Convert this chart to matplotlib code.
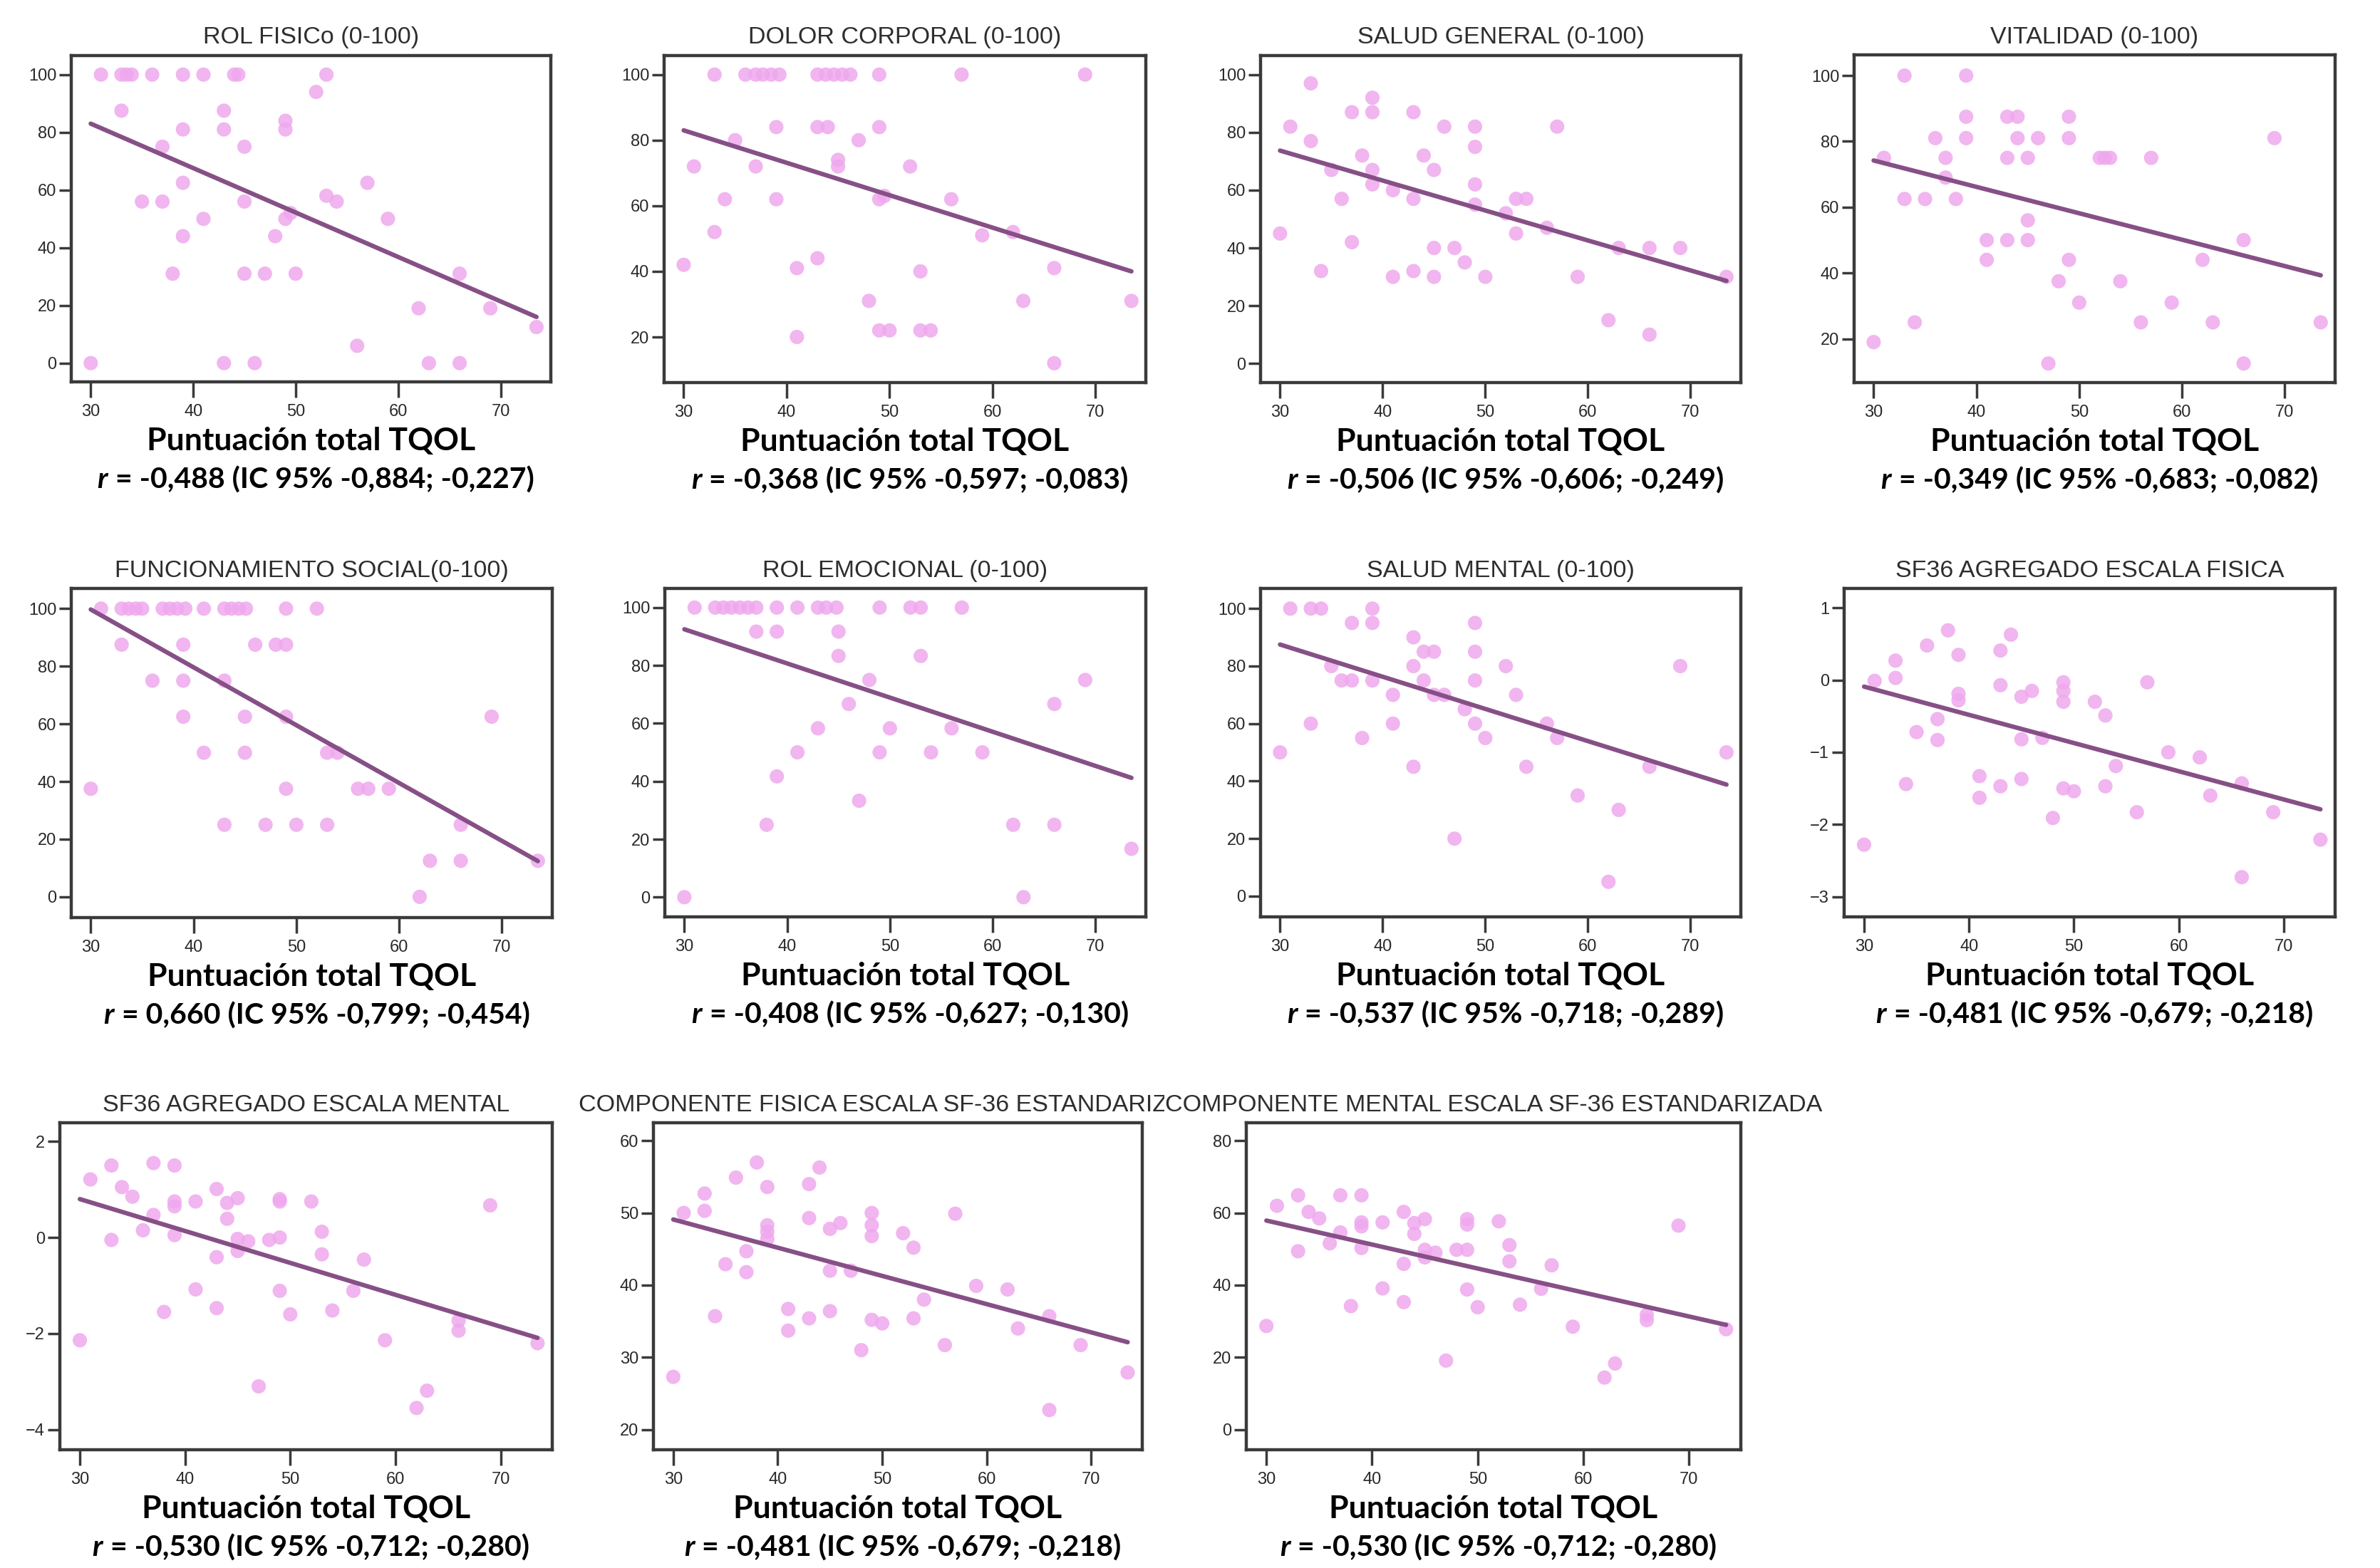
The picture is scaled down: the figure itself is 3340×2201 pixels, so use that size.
import matplotlib
matplotlib.use("Agg")
import matplotlib.pyplot as plt

# Scatter data (x = Puntuación total TQOL)
rol_fisico_x = [30, 31, 33, 33.5, 34, 36, 39, 41, 44, 44.4, 53, 52, 33, 43, 39, 43, 49, 49, 37, 45, 39, 57, 35, 37,
                45, 53, 54, 41, 49, 49.5, 59, 39, 48, 38, 45, 47, 50, 66, 62, 69, 56, 73.5, 43, 46, 63, 66]
rol_fisico_y = [0, 100, 100, 100, 100, 100, 100, 100, 100, 100, 100, 94, 87.5, 87.5, 81, 81, 81, 84, 75, 75, 62.5, 62.5,
                56, 56, 56, 58, 56, 50, 50, 52, 50, 44, 44, 31, 31, 31, 31, 31, 19, 19, 6, 12.5, 0, 0, 0, 0]

dolor_x = [33, 36, 37, 37.7, 38.5, 39.3, 43, 43.8, 44.6, 45.4, 46.2, 49, 57, 69, 39, 43, 44, 49, 35, 47, 31, 37, 45,
           45, 52, 34, 39, 49, 49.5, 56, 33, 59, 62, 30, 41, 43, 53, 66, 48, 63, 73.5, 41, 49, 50, 53, 54, 66]
dolor_y = [100, 100, 100, 100, 100, 100, 100, 100, 100, 100, 100, 100, 100, 100, 84, 84, 84, 84, 80, 80, 72, 72, 72,
           74, 72, 62, 62, 62, 63, 62, 52, 51, 52, 42, 41, 44, 40, 41, 31, 31, 31, 20, 22, 22, 22, 22, 12]

salud_gen_x = [33, 39, 39, 37, 43, 31, 46, 49, 57, 33, 49, 38, 44, 35, 39, 45, 39, 49, 41, 36, 43, 53, 54, 49, 52,
               56, 30, 53, 37, 45, 47, 63, 66, 69, 48, 34, 43, 41, 45, 50, 59, 73.5, 62, 66]
salud_gen_y = [97, 92, 87, 87, 87, 82, 82, 82, 82, 77, 75, 72, 72, 67, 67, 67, 62, 62, 60, 57, 57, 57, 57, 55, 52,
               47, 45, 45, 42, 40, 40, 40, 40, 40, 35, 32, 32, 30, 30, 30, 30, 30, 15, 10]

vitalidad_x = [30, 31, 33, 39, 33, 35, 38, 36, 39, 39, 37, 37, 34, 43, 44, 44, 46, 43, 45, 45, 41, 43, 45, 41, 49,
               49, 49, 48, 50, 52, 52.5, 53, 54, 57, 56, 59, 62, 63, 66, 66, 47, 69, 73.5]
vitalidad_y = [19, 75, 100, 100, 62.5, 62.5, 62.5, 81, 81, 87.5, 75, 69, 25, 87.5, 87.5, 81, 81, 75, 75, 56, 50, 50,
               50, 44, 87.5, 81, 44, 37.5, 31, 75, 75, 75, 37.5, 75, 25, 31, 44, 25, 50, 12.5, 12.5, 81, 25]

social_x = [31, 33, 33.7, 34.4, 35, 37, 37.7, 38.4, 39.2, 41, 43, 43.7, 44.4, 45.1, 49, 52, 33, 39, 46, 48, 49, 36,
            39, 43, 39, 45, 49, 69, 41, 45, 53, 54, 30, 49, 56, 57, 59, 43, 47, 50, 53, 66, 63, 66, 73.5, 62]
social_y = [100, 100, 100, 100, 100, 100, 100, 100, 100, 100, 100, 100, 100, 100, 100, 100, 87.5, 87.5, 87.5, 87.5,
            87.5, 75, 75, 75, 62.5, 62.5, 62.5, 62.5, 50, 50, 50, 50, 37.5, 37.5, 37.5, 37.5, 37.5, 25, 25, 25, 25,
            25, 12.5, 12.5, 12.5, 0]

emocional_x = [31, 33, 33.8, 34.6, 35.4, 36.2, 37, 39, 41, 43, 43.8, 44.8, 49, 52, 53, 57, 37, 39, 45, 45, 53, 48,
               69, 46, 66, 43, 50, 56, 41, 49, 54, 59, 39, 47, 38, 62, 66, 73.5, 30, 63]
emocional_y = [100, 100, 100, 100, 100, 100, 100, 100, 100, 100, 100, 100, 100, 100, 100, 100, 91.7, 91.7, 91.7,
               83.3, 83.3, 75, 75, 66.7, 66.7, 58.3, 58.3, 58.3, 50, 50, 50, 50, 41.7, 33.3, 25, 25, 25, 16.7, 0, 0]

mental_x = [31, 33, 34, 39, 37, 39, 49, 43, 44, 45, 49, 35, 43, 52, 69, 36, 37, 39, 44, 49, 41, 45, 46, 53, 48, 33,
            41, 49, 56, 38, 50, 57, 30, 73.5, 43, 54, 66, 59, 63, 47, 62]
mental_y = [100, 100, 100, 100, 95, 95, 95, 90, 85, 85, 85, 80, 80, 80, 80, 75, 75, 75, 75, 75, 70, 70, 70, 70, 65,
            60, 60, 60, 60, 55, 55, 55, 50, 50, 45, 45, 45, 35, 30, 20, 5]

sf36_fis_x = [30, 31, 33, 33, 34, 35, 36, 37, 37, 38, 39, 39, 39, 41, 41, 43, 43, 43, 44, 45, 45, 45, 46, 47, 48,
              49, 49, 49, 49, 50, 52, 53, 53, 54, 56, 57, 59, 62, 63, 66, 66, 69, 73.5]
sf36_fis_y = [-2.28, -0.01, 0.27, 0.03, -1.44, -0.72, 0.48, -0.54, -0.83, 0.69, 0.35, -0.19, -0.28, -1.33, -1.63,
              0.41, -0.07, -1.47, 0.63, -0.23, -0.82, -1.37, -0.15, -0.8, -1.91, -0.03, -0.15, -0.3, -1.5, -1.54,
              -0.3, -0.49, -1.47, -1.19, -1.83, -0.03, -1.0, -1.07, -1.6, -1.43, -2.73, -1.83, -2.21]

sf36_men_x = [30, 31, 33, 33, 34, 35, 36, 37, 37, 38, 39, 39, 39, 39, 41, 41, 43, 43, 43, 44, 44, 45, 45, 45, 46,
              47, 48, 49, 49, 49, 49, 50, 52, 53, 53, 54, 56, 57, 59, 62, 63, 66, 66, 69, 73.5]
sf36_men_y = [-2.14, 1.21, 1.5, -0.05, 1.05, 0.85, 0.15, 1.55, 0.47, -1.55, 1.5, 0.75, 0.65, 0.05, 0.75, -1.08,
              1.01, -0.41, -1.47, 0.72, 0.39, 0.82, -0.03, -0.28, -0.08, -3.1, -0.05, 0.8, 0.75, 0.0, -1.11, -1.6,
              0.75, 0.12, -0.35, -1.52, -1.11, -0.46, -2.14, -3.55, -3.19, -1.73, -1.94, 0.67, -2.2]

comp_fis_x = [30, 31, 33, 33, 34, 35, 36, 37, 37, 38, 39, 39, 39, 39, 41, 41, 43, 43, 43, 44, 45, 45, 45, 46, 47,
              48, 49, 49, 49, 49, 50, 52, 53, 53, 54, 56, 57, 59, 62, 63, 66, 66, 69, 73.5]
comp_fis_y = [27.3, 50, 52.7, 50.3, 35.7, 42.9, 54.9, 44.7, 41.8, 57.0, 53.6, 48.3, 47.4, 46.4, 36.7, 33.7, 54.0,
              49.3, 35.4, 56.3, 47.8, 42.0, 36.4, 48.6, 42.0, 31.0, 50, 48.3, 46.8, 35.2, 34.7, 47.2, 45.2, 35.4,
              38.0, 31.7, 49.9, 39.9, 39.4, 34.0, 35.7, 22.7, 31.7, 27.9]

comp_men_x = [30, 31, 33, 33, 34, 35, 36, 37, 37, 38, 39, 39, 39, 39, 41, 41, 43, 43, 43, 44, 44, 45, 45, 45, 46,
              47, 48, 49, 49, 49, 49, 50, 52, 53, 53, 54, 56, 57, 59, 62, 63, 66, 66, 69, 73.5]
comp_men_y = [28.7, 62, 64.9, 49.4, 60.3, 58.5, 51.6, 64.9, 54.6, 34.2, 64.9, 57.4, 56.3, 50.3, 57.4, 39.1, 60.3,
              45.9, 35.3, 57.2, 54.2, 58.3, 49.8, 47.7, 49.0, 19.1, 49.8, 58.3, 56.8, 49.8, 38.8, 33.9, 57.7, 51.1,
              46.6, 34.6, 39.0, 45.5, 28.5, 14.4, 18.3, 31.8, 30.3, 56.5, 27.8]

# fitted line: y at smallest and largest x
fit_ends = [(83, 16), (83, 40), (73.7, 28.6), (74.2, 39.3), (99.7, 12.4), (92.5, 41.2),
            (87.5, 38.8), (-0.09, -1.79), (0.8, -2.09), (49.1, 32.1), (57.9, 29.0)]

titles = ["ROL FISICo (0-100)", "DOLOR CORPORAL (0-100)", "SALUD GENERAL (0-100)", "VITALIDAD (0-100)",
          "FUNCIONAMIENTO SOCIAL(0-100)", "ROL EMOCIONAL (0-100)", "SALUD MENTAL (0-100)",
          "SF36 AGREGADO ESCALA FISICA", "SF36 AGREGADO ESCALA MENTAL",
          "COMPONENTE FISICA ESCALA SF-36 ESTANDARIZADA", "COMPONENTE MENTAL ESCALA SF-36 ESTANDARIZADA"]

r_texts = ["= -0,488 (IC 95% -0,884; -0,227)", "= -0,368 (IC 95% -0,597; -0,083)",
           "= -0,506 (IC 95% -0,606; -0,249)", "= -0,349 (IC 95% -0,683; -0,082)",
           "= 0,660 (IC 95% -0,799; -0,454)", "= -0,408 (IC 95% -0,627; -0,130)",
           "= -0,537 (IC 95% -0,718; -0,289)", "= -0,481 (IC 95% -0,679; -0,218)",
           "= -0,530 (IC 95% -0,712; -0,280)", "= -0,481 (IC 95% -0,679; -0,218)",
           "= -0,530 (IC 95% -0,712; -0,280)"]

y_ticks = [[0, 20, 40, 60, 80, 100], [20, 40, 60, 80, 100], [0, 20, 40, 60, 80, 100], [20, 40, 60, 80, 100],
           [0, 20, 40, 60, 80, 100], [0, 20, 40, 60, 80, 100], [0, 20, 40, 60, 80, 100], [-3, -2, -1, 0, 1],
           [-4, -2, 0, 2], [20, 30, 40, 50, 60], [0, 20, 40, 60, 80]]
y_lims = [(-6.5, 106.6), (6.1, 105.8), (-6.6, 106.6), (6.7, 106.3), (-7.2, 107), (-6.8, 106.6), (-7.2, 107),
          (-3.28, 1.27), (-4.42, 2.39), (17.2, 62.5), (-5.6, 85)]
x_ticks = [30, 40, 50, 60, 70]

xs = [rol_fisico_x, dolor_x, salud_gen_x, vitalidad_x, social_x, emocional_x, mental_x,
      sf36_fis_x, sf36_men_x, comp_fis_x, comp_men_x]
ys = [rol_fisico_y, dolor_y, salud_gen_y, vitalidad_y, social_y, emocional_y, mental_y,
      sf36_fis_y, sf36_men_y, comp_fis_y, comp_men_y]

# axes boxes in pixels: left, top, right, bottom
W, H = 3341, 2201
boxes = [(100, 78, 773, 536), (932, 78, 1608, 537), (1769, 78, 2443, 537), (2602, 77, 3277, 537),
         (100, 826, 775, 1288), (933, 826, 1608, 1287), (1769, 826, 2443, 1287), (2588, 826, 3277, 1287),
         (84, 1576, 775, 2035), (917, 1576, 1603, 2035), (1749, 1576, 2443, 2035)]

DOT = "#efa8ee"
LINE = "#865086"
SPINE = "#3a3a3a"

fig = plt.figure(figsize=(W / 100, H / 100), dpi=100)
fig.patch.set_facecolor("white")

for i in range(11):
    l, t, r, b = boxes[i]
    ax = fig.add_axes([l / W, 1 - b / H, (r - l) / W, (b - t) / H])
    ax.scatter(xs[i], ys[i], s=210, color=DOT, edgecolors="none", alpha=0.85, zorder=2)
    x0, x1 = min(xs[i]), max(xs[i])
    ax.plot([x0, x1], list(fit_ends[i]), color=LINE, lw=4.5, solid_capstyle="round", zorder=3)
    ax.set_xlim(28.1, 74.9)
    ax.set_ylim(*y_lims[i])
    ax.set_xticks(x_ticks)
    ax.set_yticks(y_ticks[i])
    for s in ax.spines.values():
        s.set_linewidth(3.2)
        s.set_color(SPINE)
    ax.tick_params(axis="both", direction="out", width=2.5, color=SPINE, labelsize=17,
                   labelcolor="#2a2a2a")
    ax.tick_params(axis="x", length=16, pad=6)
    ax.tick_params(axis="y", length=12, pad=3)
    for lab in ax.get_xticklabels() + ax.get_yticklabels():
        lab.set_family("Liberation Sans")

    bbox = None
    if i == 10:
        bbox = dict(facecolor="white", edgecolor="none", pad=1)
    ax.annotate(titles[i], xy=(0.5, 1), xycoords="axes fraction", xytext=(0, 18),
                textcoords="offset points", ha="center", va="center", fontsize=24.5,
                family="Liberation Sans", color="#2e2e2e", bbox=bbox, zorder=5)

    ax.annotate("Puntuación total TQOL", xy=(0.5, 0), xycoords="axes fraction", xytext=(0, -60),
                textcoords="offset points", ha="center", va="center", fontsize=32,
                family="Lato", fontweight="bold", color="black")
    rt = ax.annotate(r_texts[i], xy=(0.5, 0), xycoords="axes fraction", xytext=(14, -99),
                     textcoords="offset points", ha="center", va="center", fontsize=29.5,
                     family="Lato", fontweight="bold", color="black")
    ax.annotate("r", xy=(0, 0.5), xycoords=rt, xytext=(-8, 0), textcoords="offset points",
                ha="right", va="center", fontsize=29.5, family="Lato", fontweight="bold",
                style="italic", color="black")

fig.savefig("out.png", dpi=100, facecolor="white")
